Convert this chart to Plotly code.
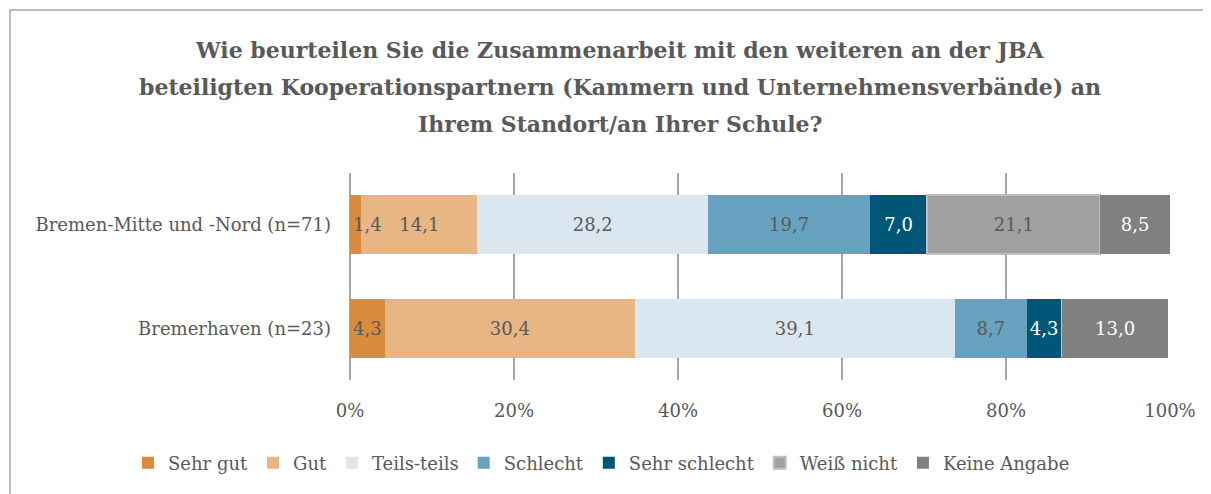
import plotly.graph_objects as go

categories = ["Bremen-Mitte und -Nord (n=71)", "Bremerhaven (n=23)"]
series_names = ["Sehr gut", "Gut", "Teils-teils", "Schlecht", "Sehr schlecht", "Weiß nicht", "Keine Angabe"]
sehr_gut = [1.4, 4.3]
gut = [14.1, 30.4]
teils = [28.2, 39.1]
schlecht = [19.7, 8.7]
sehr_schlecht = [7.0, 4.3]
weiss_nicht = [21.1, 0.0]
keine_angabe = [8.5, 13.0]
tick_vals = [0, 20, 40, 60, 80, 100]
tick_text = [f"{v}%" for v in tick_vals]
title_lines = [
    "Wie beurteilen Sie die Zusammenarbeit mit den weiteren an der JBA",
    "beteiligten Kooperationspartnern (Kammern und Unternehmensverbände) an",
    "Ihrem Standort/an Ihrer Schule?",
]

series = [sehr_gut, gut, teils, schlecht, sehr_schlecht, weiss_nicht, keine_angabe]
colors = ["#D98B3E", "#E8B584", "#DAE7F1", "#67A2C0", "#005677", "#A0A0A0", "#808080"]
text_colors = ["#595959", "#595959", "#595959", "#595959", "#FFFFFF", "#595959", "#FFFFFF"]
line_colors = [None, None, None, None, None, "#BFBFBF", None]

FONT = "DejaVu Serif"
OFF = 8  # page body margin
W, H = 1211 - OFF, 494 - OFF
L, T = 350 - OFF, 173 - OFF
R = W - (1170 - OFF)
B = H - (380 - OFF)
pw, ph = W - L - R, H - T - B

def px2x(s):
    return (s - OFF - L) / pw

def py2y(s):
    return (H - B - (s - OFF)) / ph

fig = go.Figure()
for i, (name, vals, col, tcol, lcol) in enumerate(zip(series_names, series, colors, text_colors, line_colors)):
    txt = [f"{v:.1f}".replace(".", ",") if v > 0 else "" for v in vals]
    fig.add_trace(go.Bar(
        name=name, y=categories, x=vals, orientation="h",
        marker=dict(color=col, line=dict(color=lcol if lcol else col, width=2 if lcol else 0)),
        text=txt, textposition="inside",
        insidetextanchor="start" if i == 0 else "middle",
        constraintext="none", textangle=0,
        textfont=dict(family=FONT, size=18, color=tcol),
        zorder=1 if i == 0 else 0,
    ))

annotations = []
for i, line in enumerate(title_lines):
    annotations.append(dict(
        text=f"<b>{line}</b>", x=px2x(620), y=py2y(50 + 37 * i), xref="paper", yref="paper",
        xanchor="center", yanchor="middle", showarrow=False,
        font=dict(family=FONT, size=22, color="#595959"),
    ))

fig.update_layout(
    width=W, height=H, barmode="stack", bargap=0.43,
    separators=",.",
    margin=dict(l=L, r=R, t=T, b=B, autoexpand=False),
    paper_bgcolor="white", plot_bgcolor="white",
    font=dict(family=FONT, size=18, color="#595959"),
    annotations=annotations,
    showlegend=True,
    legend=dict(orientation="h", xref="paper", yref="paper",
                x=px2x(128), y=py2y(463), xanchor="left", yanchor="middle",
                font=dict(family=FONT, size=18, color="#595959"),
                traceorder="normal", itemwidth=30),
    shapes=[dict(type="rect", xref="paper", yref="paper",
                 x0=px2x(10), x1=px2x(1400), y0=py2y(700), y1=py2y(10),
                 line=dict(color="#A6A6A6", width=1.5), fillcolor="rgba(0,0,0,0)", layer="below")],
)
fig.update_xaxes(range=[0, 100], tickvals=tick_vals, ticktext=tick_text,
                 showgrid=True, gridcolor="#A6A6A6", gridwidth=1.5,
                 zeroline=True, zerolinecolor="#A6A6A6", zerolinewidth=1.5,
                 showline=False, ticks="", ticklabelstandoff=18,
                 tickfont=dict(family=FONT, size=18, color="#595959"))
fig.update_yaxes(categoryorder="array", categoryarray=categories, autorange="reversed",
                 showgrid=False, zeroline=False, showline=False, ticks="",
                 ticklabelstandoff=18,
                 tickfont=dict(family=FONT, size=18, color="#595959"))

fig.write_html("out.html")
